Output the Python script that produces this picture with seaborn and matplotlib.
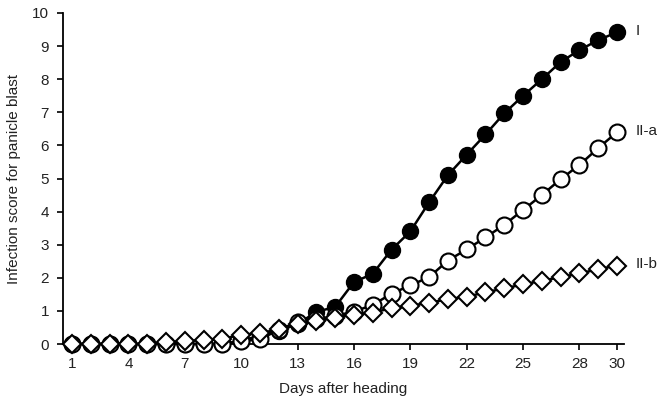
import matplotlib
matplotlib.use("Agg")
import matplotlib.pyplot as plt
import seaborn as sns
import pandas as pd

days = list(range(1, 31))
series_I = [0, 0, 0, 0, 0, 0, 0, 0, 0, 0.1, 0.25, 0.4, 0.6, 0.97, 1.12,
            1.87, 2.12, 2.85, 3.4, 4.28, 5.1, 5.72, 6.33, 6.97, 7.5,
            8.0, 8.52, 8.88, 9.18, 9.42]
series_IIa = [0, 0, 0, 0, 0, 0, 0, 0, 0, 0.08, 0.15, 0.42, 0.67, 0.75, 0.85,
              0.98, 1.18, 1.52, 1.77, 2.02, 2.52, 2.86, 3.22, 3.6, 4.05,
              4.5, 4.98, 5.41, 5.92, 6.4]
series_IIb = [0, 0, 0, 0, 0, 0.05, 0.08, 0.12, 0.15, 0.28, 0.32, 0.45, 0.6,
              0.68, 0.8, 0.88, 0.95, 1.08, 1.15, 1.25, 1.35, 1.43, 1.56,
              1.68, 1.8, 1.91, 2.02, 2.13, 2.26, 2.37]
series_names = ["I", "II-a", "II-b"]
x_ticks = [1, 4, 7, 10, 13, 16, 19, 22, 25, 28, 30]
y_ticks = list(range(0, 11))

sns.set_style("ticks")
plt.rcParams["font.family"] = ["Liberation Sans", "DejaVu Sans"]

fig = plt.figure(figsize=(6.68, 4.0), dpi=100)
ax = fig.add_axes([63 / 668, 1 - 344 / 400, (624 - 63) / 668, (344 - 13) / 400])

df = pd.DataFrame({"day": days, "I": series_I, "II-a": series_IIa, "II-b": series_IIb})

sns.lineplot(data=df, x="day", y="I", ax=ax, color="black", linewidth=1.8,
             marker="o", markersize=11.5, markerfacecolor="black",
             markeredgecolor="black", markeredgewidth=1.0, clip_on=False, zorder=3)
sns.lineplot(data=df, x="day", y="II-a", ax=ax, color="black", linewidth=1.8,
             marker="o", markersize=11.5, markerfacecolor="white",
             markeredgecolor="black", markeredgewidth=1.5, clip_on=False, zorder=4)
sns.lineplot(data=df, x="day", y="II-b", ax=ax, color="black", linewidth=1.8,
             marker="D", markersize=9, markerfacecolor="white",
             markeredgecolor="black", markeredgewidth=1.5, clip_on=False, zorder=5)

ax.set_xlim(0.52, 30.37)
ax.set_ylim(0, 10)
ax.set_xticks(x_ticks)
ax.set_yticks(y_ticks)
ax.tick_params(axis="both", direction="out", length=4, width=1.2, colors="black",
               labelsize=11, labelcolor="#222222")
ax.tick_params(axis="x", pad=5)
ax.tick_params(axis="y", pad=6)
for s in ["left", "bottom"]:
    ax.spines[s].set_linewidth(1.3)
    ax.spines[s].set_color("black")
sns.despine(ax=ax)

ax.set_xlabel("Days after heading", fontsize=11, color="#222222", labelpad=8)
ax.set_ylabel("Infection score for panicle blast", fontsize=11, color="#222222", labelpad=8)

for name, vals in zip(series_names, [series_I, series_IIa, series_IIb]):
    ax.text(31.0, vals[-1] + 0.05, name, fontsize=11, color="#222222",
            ha="left", va="center", clip_on=False)

fig.savefig("out.png", dpi=100)
